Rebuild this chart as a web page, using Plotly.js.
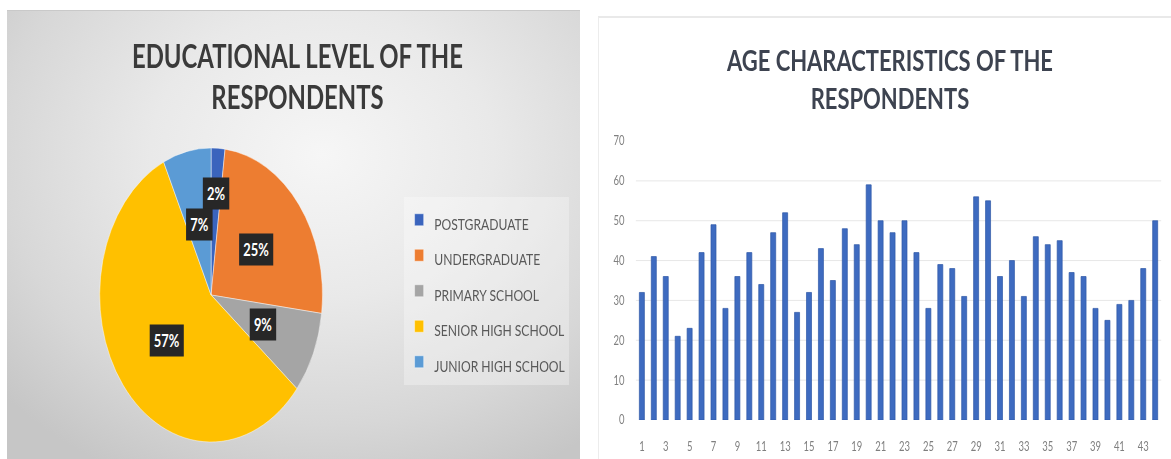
<!DOCTYPE html>
<html>
<head>
<meta charset="utf-8">
<script src="https://cdn.plot.ly/plotly-3.0.1.min.js"></script>
<style>
  html, body { margin:0; padding:0; background:#ffffff; }
  body { width:1171px; height:459px; overflow:hidden; position:relative; }
  #leftbg { position:absolute; left:7px; top:10px; width:573px; height:449px;
    background: radial-gradient(ellipse 75% 80% at 55% 32%, #f6f6f6 0%, #e9e9e9 40%, #d7d7d7 75%, #c6c6c6 100%);
    border-top:1px solid #c9c9c9; }
  #rightbg { position:absolute; left:598px; top:16px; width:573px; height:443px;
    background:#ffffff; border-top:2px solid #e9e9e9; border-left:1px solid #ececec; }
  #chart { position:absolute; left:0; top:0; width:1545px; height:459px;
    transform:scaleX(0.75793); transform-origin:0 0; }
</style>
</head>
<body>
<div id="leftbg"></div>
<div id="rightbg"></div>
<div id="chart"></div>
<script>
// ---------- data ----------
const eduLabels = ['POSTGRADUATE', 'UNDERGRADUATE', 'PRIMARY SCHOOL', 'SENIOR HIGH SCHOOL', 'JUNIOR HIGH SCHOOL'];
const eduShares = [2, 25, 9, 57, 7];
const eduTitle = 'EDUCATIONAL LEVEL OF THE<br>RESPONDENTS';

const respondents = [1,2,3,4,5,6,7,8,9,10,11,12,13,14,15,16,17,18,19,20,21,22,
                     23,24,25,26,27,28,29,30,31,32,33,34,35,36,37,38,39,40,41,42,43,44];
const ages = [32,41,36,21,23,42,49,28,36,42,34,47,52,27,32,43,35,48,44,59,50,47,
              50,42,28,39,38,31,56,55,36,40,31,46,44,45,37,36,28,25,29,30,38,50];
const ageTitle = 'AGE CHARACTERISTICS OF THE<br>RESPONDENTS';

// ---------- styles ----------
const eduColors = ['#3A64BD', '#ED7D31', '#A5A5A5', '#FFC000', '#5B9BD5'];
const labelRadius = [0.69, 0.51, 0.51, 0.5, 0.49];   // label distance (fraction of radius)
const W = 1545, H = 459;
const pieCx = 278.5, pieCy = 295, pieR = 147;       // px (unscaled frame)
const FONT = 'Lato, "Open Sans", sans-serif';

const pieDomX = [(pieCx - pieR) / W, (pieCx + pieR) / W];
const pieDomY = [(H - pieCy - pieR) / H, (H - pieCy + pieR) / H];

// pie label annotations at slice mid-angles
const total = eduShares.reduce((a, b) => a + b, 0);
let acc = 0;
const pieLabelAnns = eduShares.map((v, i) => {
  const mid = (acc + v / 2) / total * 2 * Math.PI;
  acc += v;
  const f = labelRadius[i];
  const px = pieCx + f * pieR * Math.sin(mid);
  const py = pieCy - f * pieR * Math.cos(mid);
  return {
    xref: 'paper', yref: 'paper', x: px / W, y: (H - py) / H,
    xanchor: 'center', yanchor: 'middle', showarrow: false,
    text: '<b>' + Math.round(v / total * 100) + '%</b>',
    font: { family: FONT, size: 17, color: '#ffffff' },
    bgcolor: '#272727', borderpad: 5
  };
});

const pie = {
  type: 'pie',
  labels: eduLabels.map(l => '<span style="font-size:16px">' + l + '</span>'),
  values: eduShares,
  sort: false,
  direction: 'clockwise',
  rotation: 0,
  textinfo: 'none',
  hoverinfo: 'skip',
  marker: { colors: eduColors, line: { color: 'rgba(255,255,255,0.5)', width: 1 } },
  domain: { x: pieDomX, y: pieDomY },
  showlegend: true
};

const bars = {
  type: 'bar',
  x: respondents,
  y: ages,
  marker: { color: '#3E6BC0', line: { color: '#2F58A6', width: 0.8 } },
  hoverinfo: 'skip',
  showlegend: false,
  xaxis: 'x', yaxis: 'y'
};

const layout = {
  width: W, height: H,
  margin: { l: 0, r: 0, t: 0, b: 0 },
  paper_bgcolor: 'rgba(0,0,0,0)',
  plot_bgcolor: 'rgba(0,0,0,0)',
  font: { family: FONT },
  bargap: 0.58,
  xaxis: {
    domain: [839 / W, 1532 / W],
    range: [0.5, 44.5],
    tickmode: 'linear', tick0: 1, dtick: 2,
    showgrid: false, zeroline: false, showline: false,
    ticks: '', ticklabelstandoff: 18,
    tickfont: { size: 12.5, color: '#7f7f7f' }
  },
  yaxis: {
    domain: [39 / H, 318 / H],
    range: [0, 70],
    tickmode: 'linear', tick0: 0, dtick: 10,
    showgrid: true, gridcolor: '#e4e4e4', gridwidth: 1,
    zeroline: false, showline: false,
    ticks: '', ticklabelstandoff: 14,
    tickfont: { size: 12.5, color: '#7f7f7f' }
  },
  legend: {
    x: 533 / W, y: 1 - 197 / H, xanchor: 'left', yanchor: 'top',
    bgcolor: 'rgba(255,255,255,0.3)',
    font: { size: 25, color: '#595959', family: FONT },
    itemwidth: 30,
    traceorder: 'normal'
  },
  annotations: [
    {
      xref: 'paper', yref: 'paper', x: 393 / W, y: 1 - 76 / H,
      xanchor: 'center', yanchor: 'middle', showarrow: false,
      text: '<b>' + eduTitle + '</b>',
      font: { size: 31.5, color: '#3a3a3a', family: FONT }
    },
    {
      xref: 'paper', yref: 'paper', x: 1173 / W, y: 1 - 78 / H,
      xanchor: 'center', yanchor: 'middle', showarrow: false,
      text: '<b>' + ageTitle + '</b>',
      font: { size: 29, color: '#3d4350', family: FONT }
    }
  ].concat(pieLabelAnns)
};

Plotly.newPlot('chart', [pie, bars], layout, { staticPlot: true, displayModeBar: false, responsive: false });
</script>
</body>
</html>
